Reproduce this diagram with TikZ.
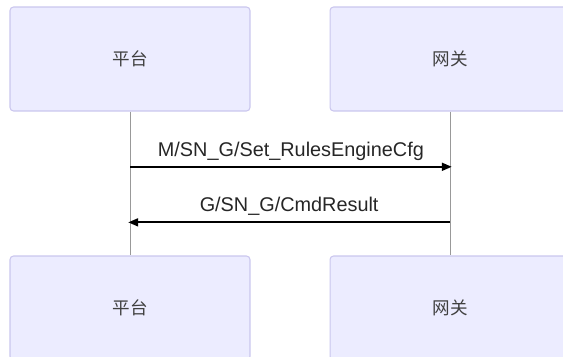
\documentclass[tikz,border=0pt]{standalone}
\usepackage{fontspec}
\setmainfont{Liberation Sans}
\newfontfamily\cjk{Noto Sans CJK SC}
\usetikzlibrary{
  arrows.meta,
  calc
}
\definecolor{actorfill}{HTML}{ECECFF}
\definecolor{actorline}{HTML}{CAC6EE}
\definecolor{lifeline}{HTML}{999999}

\begin{document}
\begin{tikzpicture}[
  x=0.02cm, y=-0.02cm,
  actor/.style={draw=actorline, fill=actorfill, rounded corners=2pt, line width=0.6pt,
                minimum width=4.8cm, minimum height=2.08cm,
                font=\cjk\fontsize{10}{12}\selectfont, text=black!75},
  life/.style={draw=lifeline, line width=0.5pt},
  msg/.style={-{Triangle[length=0.2cm, width=0.16cm]}, line width=1.1pt, black},
  msglabel/.style={midway, above, text depth=0.25em, inner sep=3pt,
                   font=\fontsize{11.3}{13}\selectfont, text=black!85}
]
  \useasboundingbox (0,0) rectangle (563,357);
  \clip (0,0) rectangle (563,357);

  \node[actor] (platTop) at (130, 59) {平台};
  \node[actor] (gwTop) at (450, 59) {网关};
  \node[actor] (platBot) at (130, 308) {平台};
  \node[actor] (gwBot) at (450, 308) {网关};

  % lifelines
  \draw[life] (platTop.south) -- (platBot.north);
  \draw[life] (gwTop.south) -- (gwBot.north);

  % messages
  \coordinate (platA) at ($(platTop.south)!0.384!(platBot.north)$);
  \coordinate (gwA) at ($(gwTop.south)!0.384!(gwBot.north)$);
  \coordinate (platB) at ($(platTop.south)!0.77!(platBot.north)$);
  \coordinate (gwB) at ($(gwTop.south)!0.77!(gwBot.north)$);

  \draw[msg] (platA) -- ([xshift=1pt]gwA)
    node[msglabel] {M/SN\_G/Set\_RulesEngineCfg};
  \draw[msg] (gwB) -- ([xshift=-1pt]platB)
    node[msglabel] {G/SN\_G/CmdResult};
\end{tikzpicture}
\end{document}
